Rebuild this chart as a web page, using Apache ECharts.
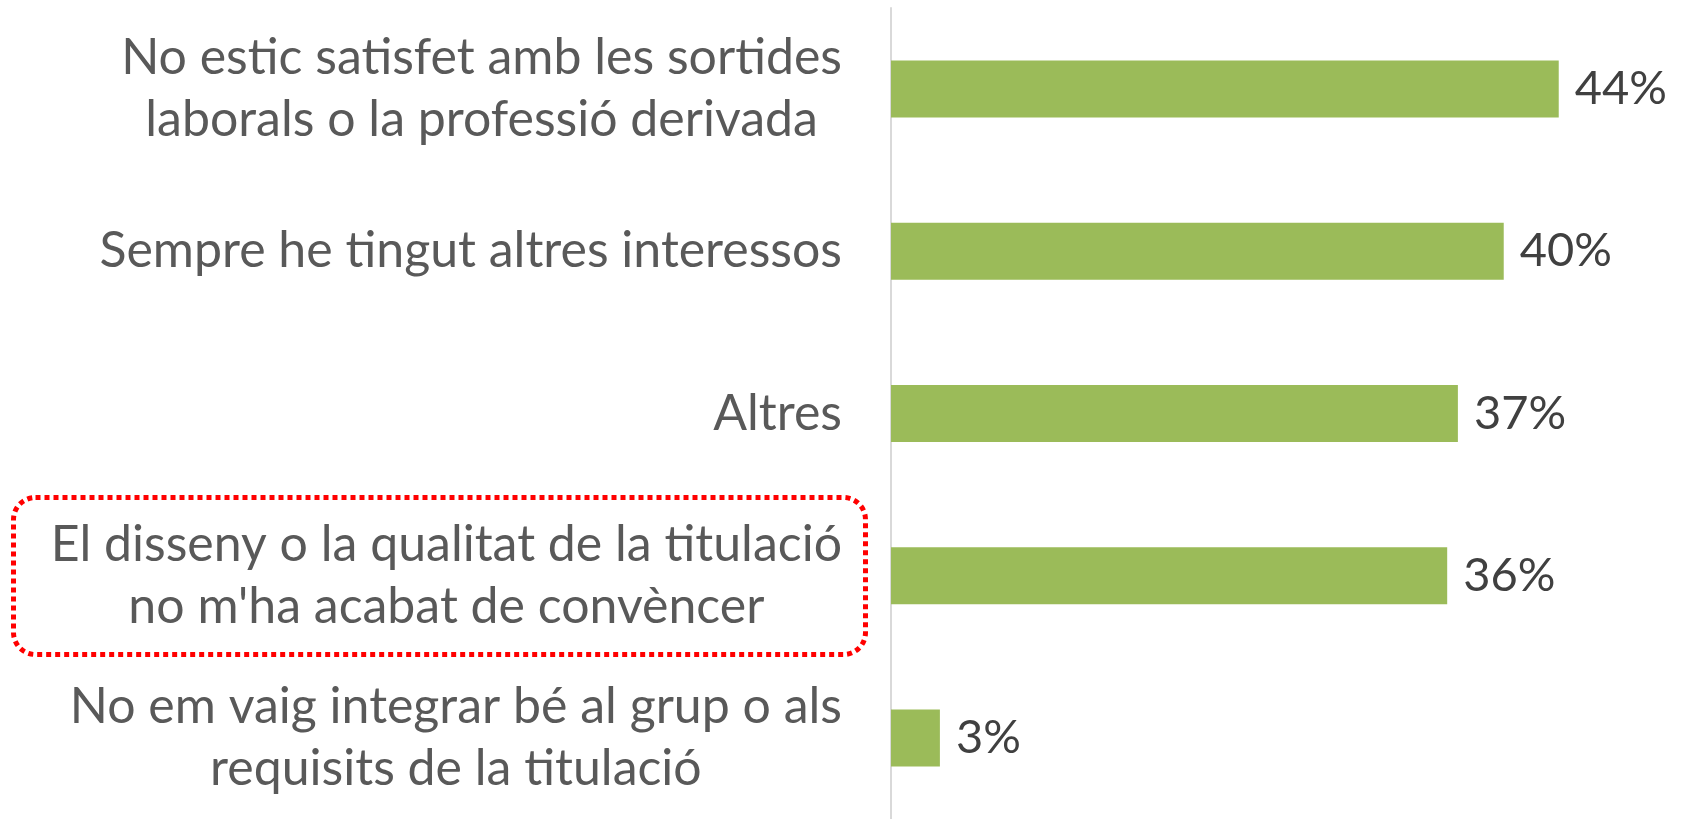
<!DOCTYPE html>
<html><head><meta charset="utf-8">
<script src="https://cdn.jsdelivr.net/npm/echarts@6/dist/echarts.min.js"></script>
<style>html,body{margin:0;padding:0;background:#fff}#c{width:1683px;height:819px}</style>
</head><body><div id="c"></div>
<script>
const categories = [
  "No estic satisfet amb les sortides\nlaborals o la professió derivada",
  "Sempre he tingut altres interessos",
  "Altres",
  "El disseny o la qualitat de la titulació\nno m'ha acabat de convèncer",
  "No em vaig integrar bé al grup o als\nrequisits de la titulació"
];
const values = [43.7, 40.1, 37.1, 36.4, 3.2];

const chart = echarts.init(document.getElementById('c'));
chart.setOption({
  animation: false,
  grid: {left: 891, top: 8, height: 815, width: 764},
  xAxis: {type: 'value', min: 0, max: 50, show: false},
  yAxis: {
    type: 'category', data: categories, inverse: true,
    axisLine: {show: true, lineStyle: {color: '#d9d9d9', width: 2}},
    axisTick: {show: false},
    axisLabel: {
      margin: 49, align: 'right',
      formatter: v => v.split('\n').map(l => '{c|' + l + '}').join('\n'),
      rich: {c: {align: 'center', fontFamily: 'Lato', fontSize: 50, color: '#595959', lineHeight: 62}}
    }
  },
  series: [{
    type: 'bar', data: values, barWidth: 57,
    itemStyle: {color: '#9bbb59'},
    label: {show: true, position: 'right', distance: 16, fontFamily: 'Lato', fontSize: 47, color: '#404040',
      formatter: p => Math.round(p.value) + '%'}
  }],
  graphic: [{
    type: 'rect', left: 11, top: 495,
    shape: {width: 852, height: 157, r: 22},
    style: {fill: 'none', stroke: '#ff0000', lineWidth: 5, lineDash: [5, 4]}
  }]
});
</script></body></html>
